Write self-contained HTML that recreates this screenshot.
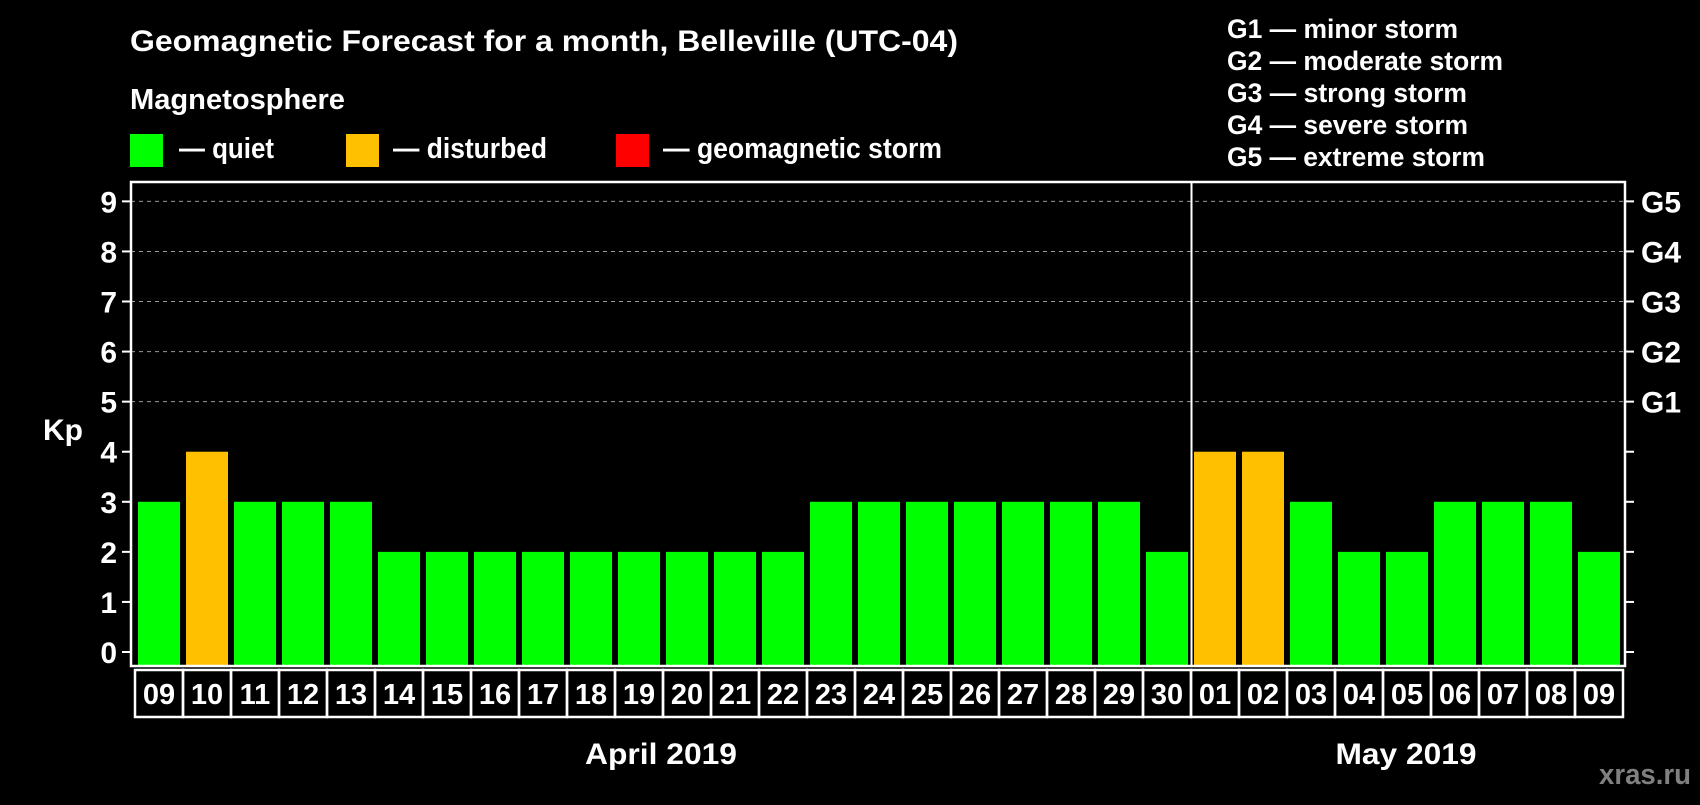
<!DOCTYPE html>
<html><head><meta charset="utf-8"><style>
html,body{margin:0;padding:0;background:#000;}
body{width:1700px;height:800px;overflow:hidden;position:relative;font-family:"Liberation Sans",sans-serif;font-weight:bold;color:#fff;}
</style></head><body>
<svg width="1700" height="800" xmlns="http://www.w3.org/2000/svg" style="font-family:'Liberation Sans',sans-serif;font-weight:bold;">
<rect width="1700" height="800" fill="#000"/>
<text x="130" y="51" font-size="30" fill="#fff" textLength="828" lengthAdjust="spacingAndGlyphs">Geomagnetic Forecast for a month, Belleville (UTC-04)</text>
<text x="130" y="109" font-size="29" fill="#fff" textLength="215" lengthAdjust="spacingAndGlyphs">Magnetosphere</text>
<rect x="130" y="134" width="33" height="33" fill="#00ff00"/>
<text x="179" y="158" font-size="29" fill="#fff" textLength="95" lengthAdjust="spacingAndGlyphs">— quiet</text>
<rect x="346" y="134" width="33" height="33" fill="#ffc000"/>
<text x="393" y="158" font-size="29" fill="#fff" textLength="154" lengthAdjust="spacingAndGlyphs">— disturbed</text>
<rect x="616" y="134" width="33" height="33" fill="#ff0000"/>
<text x="663" y="158" font-size="29" fill="#fff" textLength="279" lengthAdjust="spacingAndGlyphs">— geomagnetic storm</text>
<g font-size="27" fill="#fff">
<text x="1227" y="38" textLength="231" lengthAdjust="spacingAndGlyphs">G1 — minor storm</text>
<text x="1227" y="70" textLength="276" lengthAdjust="spacingAndGlyphs">G2 — moderate storm</text>
<text x="1227" y="102" textLength="240" lengthAdjust="spacingAndGlyphs">G3 — strong storm</text>
<text x="1227" y="134" textLength="241" lengthAdjust="spacingAndGlyphs">G4 — severe storm</text>
<text x="1227" y="166" textLength="258" lengthAdjust="spacingAndGlyphs">G5 — extreme storm</text>
</g>
<text x="43" y="440" font-size="30" fill="#fff" textLength="40" lengthAdjust="spacingAndGlyphs">Kp</text>
<g id="plot"></g>
<text x="661" y="764" font-size="30" fill="#fff" text-anchor="middle" textLength="152" lengthAdjust="spacingAndGlyphs">April 2019</text>
<text x="1406" y="764" font-size="30" fill="#fff" text-anchor="middle" textLength="141" lengthAdjust="spacingAndGlyphs">May 2019</text>
<text x="1691" y="784" font-size="29" fill="#808080" text-anchor="end" textLength="92" lengthAdjust="spacingAndGlyphs">xras.ru</text>
</svg>
<script>
const days = ["09","10","11","12","13","14","15","16","17","18","19","20","21","22","23","24","25","26","27","28","29","30","01","02","03","04","05","06","07","08","09"];
const kpValues = [3,4,3,3,3,2,2,2,2,2,2,2,2,2,3,3,3,3,3,3,3,2,4,4,3,2,2,3,3,3,2];
const yTicks = [0,1,2,3,4,5,6,7,8,9];
const gLabels = ["","","","","","G1","G2","G3","G4","G5"];
const monthBreakIndex = 22;

const NS = "http://www.w3.org/2000/svg";
const plot = document.getElementById("plot");
const L = 131, R = 1625, T = 182, B = 666;
const y = v => 652 - 50.07 * v;
const xCell = i => 135 + i * 48;
function mk(tag, attrs){const e=document.createElementNS(NS,tag);for(const k in attrs)e.setAttribute(k,attrs[k]);plot.appendChild(e);return e;}

yTicks.forEach(v=>{
  if(v>=5){
    const g=mk("line",{x1:L,x2:R,y1:y(v),y2:y(v),stroke:"#999","stroke-width":1,"stroke-dasharray":"4,4"});
    
    
  }
  const t1=mk("line",{x1:L-9,x2:L,y1:y(v),y2:y(v),stroke:"#fff","stroke-width":2});
  
  
  const t2=mk("line",{x1:R,x2:R+9,y1:y(v),y2:y(v),stroke:"#fff","stroke-width":2});
  
  
  const lb=mk("text",{x:L-14,y:y(v)+11,"font-size":30,fill:"#fff","text-anchor":"end"});
  lb.textContent=v;
  
  
  if(gLabels[v]){
    const gl=mk("text",{x:R+16,y:y(v)+11,"font-size":30,fill:"#fff"});
    gl.textContent=gLabels[v];
    
    
  }
});

kpValues.forEach((v,i)=>{
  const col = v>=5 ? "#ff0000" : (v>=4 ? "#ffc000" : "#00ff00");
  const b=mk("rect",{x:xCell(i)+3,y:y(v),width:42,height:(B-1)-y(v),fill:col});
  
  
  const c=mk("rect",{x:xCell(i),y:670,width:48,height:47,fill:"none",stroke:"#fff","stroke-width":2.5});
  
  
  const t=mk("text",{x:xCell(i)+24,y:704,"font-size":29,fill:"#fff","text-anchor":"middle"});
  t.textContent=days[i];
  
  
});

const sep=mk("line",{x1:xCell(monthBreakIndex)+0.5,x2:xCell(monthBreakIndex)+0.5,y1:T,y2:B,stroke:"#fff","stroke-width":2});


const frame=mk("rect",{x:L,y:T,width:R-L,height:B-T,fill:"none",stroke:"#fff","stroke-width":2.5});


</script>
</body></html>
